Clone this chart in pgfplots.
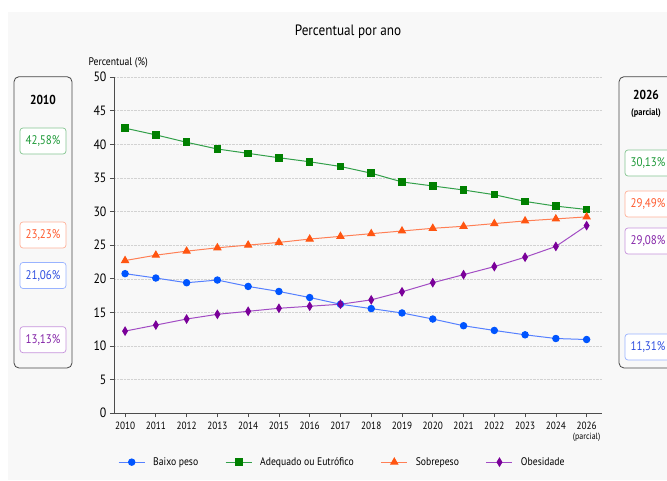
\documentclass[border=0pt]{standalone}
\usepackage{fontspec}
\setmainfont{PT Sans}[FakeStretch=0.88]
\usepackage{pgfplots}
\pgfplotsset{compat=1.18}
\definecolor{cBlue}{HTML}{0055FF}
\definecolor{cBlueL}{HTML}{5580FF}
\definecolor{cGreen}{HTML}{008000}
\definecolor{cGreenL}{HTML}{33A04A}
\definecolor{cOrange}{HTML}{FF5511}
\definecolor{cOrangeL}{HTML}{FF7F55}
\definecolor{cPurple}{HTML}{7A0099}
\definecolor{cPurpleL}{HTML}{A24CC4}
\definecolor{tBlue}{HTML}{2F4FE0}
\definecolor{tGreen}{HTML}{1E9A38}
\definecolor{tOrange}{HTML}{FF5A2E}
\definecolor{tPurple}{HTML}{8424A8}
\definecolor{bg}{HTML}{F8F8F8}
\begin{document}
\begin{tikzpicture}[x=1pt,y=1pt]
\clip (0,0) rectangle (667,480);
\fill[white] (0,0) rectangle (667,480);
\fill[bg] (8,0) rectangle (667,468);
\node at (348,448) {\fontsize{15}{18}\selectfont Percentual por ano};
\node[anchor=west] at (85,417) {\fontsize{11}{13}\selectfont Percentual (\%)};
% left box
\draw[rounded corners=5pt, gray!55!black, line width=0.8pt] (14,112) rectangle (72,403.3);
\node at (43,380) {\fontsize{13}{15}\selectfont\bfseries 2010};
\tikzset{vbox/.style 2 args={draw=#1!60, rounded corners=3pt, line width=0.7pt, fill=white, minimum width=46pt, minimum height=26pt, inner sep=0pt, text=#2, font=\fontsize{12.5}{14}\selectfont}}
\node[vbox={cGreenL}{tGreen}] at (43,339) {42,58\%};
\node[vbox={cOrangeL}{tOrange}] at (43,245) {23,23\%};
\node[vbox={cBlueL}{tBlue}] at (43,204.5) {21,06\%};
\node[vbox={cPurpleL}{tPurple}] at (43,140.3) {13,13\%};
% right box
\draw[rounded corners=5pt, gray!55!black, line width=0.8pt] (619,112) rectangle (690,403.3);
\node at (646,385) {\fontsize{13}{15}\selectfont\bfseries 2026};
\node at (646,367) {\fontsize{9.5}{11}\selectfont\bfseries (parcial)};
\node[vbox={cGreenL}{tGreen}] at (648,317) {30,13\%};
\node[vbox={cOrangeL}{tOrange}] at (648,276) {29,49\%};
\node[vbox={cPurpleL}{tPurple}] at (648,239) {29,08\%};
\node[vbox={cBlueL}{tBlue}] at (648,133) {11,31\%};
\begin{axis}[
  at={(114pt,66.9pt)}, anchor=south west,
  scale only axis, width=488pt, height=336pt,
  xmin=-0.36, xmax=15.5, ymin=0, ymax=50,
  ytick={0,5,...,50},
  xtick={0,...,15},
  xticklabels={2010,2011,2012,2013,2014,2015,2016,2017,2018,2019,2020,2021,2022,2023,2024,{2026\\[-2pt]{\fontsize{9}{10}\selectfont(parcial)}}},
  xticklabel style={align=center, font=\fontsize{10.5}{12}\selectfont, anchor=north, yshift=-1pt},
  yticklabel style={font=\fontsize{13.5}{15}\selectfont},
  /pgf/number format/assume math mode=true,
  axis lines=left,
  axis line style={-, gray!60!black, line width=0.8pt},
  tick style={gray!60!black, line width=0.7pt},
  tick align=outside,
  major tick length=4pt,
  ymajorgrids,
  grid style={densely dotted, gray!35},
  legend columns=4,
  legend style={draw=none, fill=none, at={(0.468,-0.146)}, anchor=center,
    font=\fontsize{11}{13}\selectfont,
    /tikz/every odd column/.append style={column sep=6pt},
    /tikz/every even column/.append style={column sep=25pt}},
  legend image code/.code={\draw[mark repeat=2,mark phase=2] plot coordinates {(0pt,0pt) (13pt,0pt) (26pt,0pt)};},
  every axis plot/.append style={line width=1pt},
]
\addplot[cBlueL, mark=*, mark size=3.2pt, mark options={fill=cBlue, draw=cBlue}] coordinates {
(0,20.75) (1,20.1) (2,19.4) (3,19.8) (4,18.85) (5,18.1) (6,17.2) (7,16.2) (8,15.55) (9,14.9) (10,14.0) (11,13.0) (12,12.3) (13,11.65) (14,11.1) (15,10.95)};
\addlegendentry{Baixo peso}
\addplot[cGreenL, mark=square*, mark size=3.3pt, mark options={fill=cGreen, draw=cGreen}] coordinates {
(0,42.4) (1,41.4) (2,40.3) (3,39.3) (4,38.65) (5,38.0) (6,37.4) (7,36.7) (8,35.7) (9,34.4) (10,33.8) (11,33.2) (12,32.5) (13,31.5) (14,30.8) (15,30.3)};
\addlegendentry{Adequado ou Eutrófico}
\addplot[cOrangeL, mark=triangle*, mark size=4pt, mark options={fill=cOrange, draw=cOrange}] coordinates {
(0,22.7) (1,23.5) (2,24.1) (3,24.6) (4,25.0) (5,25.4) (6,25.9) (7,26.3) (8,26.7) (9,27.1) (10,27.5) (11,27.8) (12,28.2) (13,28.6) (14,28.9) (15,29.2)};
\addlegendentry{Sobrepeso}
\addplot[cPurpleL, mark=diamond*, mark size=4pt, mark options={fill=cPurple, draw=cPurple, xscale=0.8}] coordinates {
(0,12.2) (1,13.1) (2,14.0) (3,14.7) (4,15.15) (5,15.6) (6,15.9) (7,16.2) (8,16.85) (9,18.05) (10,19.4) (11,20.6) (12,21.8) (13,23.2) (14,24.8) (15,27.9)};
\addlegendentry{Obesidade}
\end{axis}
\end{tikzpicture}
\end{document}
